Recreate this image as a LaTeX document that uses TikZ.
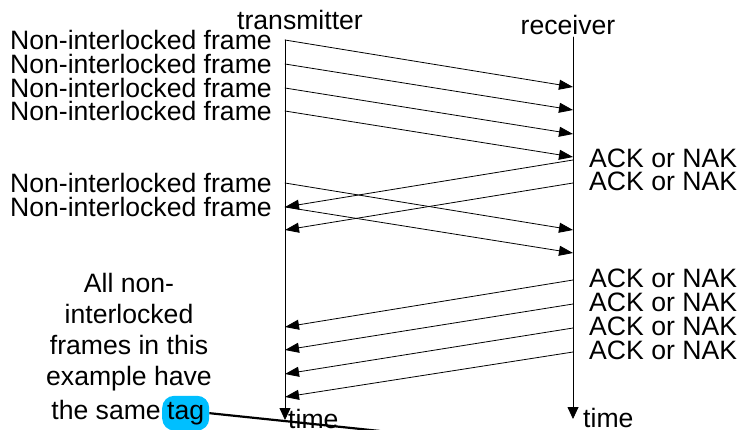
\documentclass[tikz,border=0pt]{standalone}
\usepackage{fontspec}
\setmainfont{Liberation Sans}
\usepackage{tikz}
\usetikzlibrary{arrows.meta, calc}
\usepackage{tkz-euclide}
\definecolor{tagblue}{RGB}{0,191,255}
\tikzset{
  msg/.style={line width=0.8pt, -{Triangle[length=14pt,width=10pt]}},
  axis/.style={line width=0.8pt, -{Triangle[length=12pt,width=11pt]}},
  lbl/.style={font=\fontsize{26.6}{24}\selectfont, inner sep=0pt},
}
\begin{document}
\begin{tikzpicture}[x=1pt,y=-1pt]
      \useasboundingbox (0,0) rectangle (738,429);
      % 1. 兩條時間軸
      \tkzDefPoint(285,40){T}
      \tkzDefPoint(285,420){T_end}
      \tkzDefPoint(573,37){R}
      \tkzDefPoint(573,419){R_end}
      \tkzDrawSegments[axis](T,T_end R,R_end)

      % 2. 發送端送出的幀 F_i -> G_i
      \tkzDefPoint(285,40){F_1}  \tkzDefPoint(573,87){G_1}
      \tkzDefPoint(285,64){F_2}  \tkzDefPoint(573,110){G_2}
      \tkzDefPoint(285,88){F_3}  \tkzDefPoint(573,134){G_3}
      \tkzDefPoint(285,111){F_4} \tkzDefPoint(573,157){G_4}
      \tkzDefPoint(285,183){F_5} \tkzDefPoint(573,230){G_5}
      \tkzDefPoint(285,207){F_6} \tkzDefPoint(573,253){G_6}
      \tkzDrawSegments[msg](F_1,G_1 F_2,G_2 F_3,G_3 F_4,G_4 F_5,G_5 F_6,G_6)

      % 3. 接收端回覆 K_i -> L_i
      \tkzDefPoint(573,160){K_1} \tkzDefPoint(285,207){L_1}
      \tkzDefPoint(573,183){K_2} \tkzDefPoint(285,230){L_2}
      \tkzDefPoint(573,280){K_3} \tkzDefPoint(285,327){L_3}
      \tkzDefPoint(573,304){K_4} \tkzDefPoint(285,350){L_4}
      \tkzDefPoint(573,328){K_5} \tkzDefPoint(285,374){L_5}
      \tkzDefPoint(573,352){K_6} \tkzDefPoint(285,397){L_6}
      \tkzDrawSegments[msg](K_1,L_1 K_2,L_2 K_3,L_3 K_4,L_4 K_5,L_5 K_6,L_6)

      % 4. 標籤
      \node (tx) [lbl] at (300,20) {transmitter};
      \node (rx) [lbl] at (568,25) {receiver};
      \foreach \i in {1,...,6}
        \node (frm\i) [lbl, left=13pt] at (F_\i) {Non-interlocked frame};
      \foreach \i in {1,...,6}
        \node (ack\i) [lbl, right=16pt] at ([yshift=2pt]K_\i) {ACK or NAK};
      \node (ttime) [lbl, anchor=west] at ([xshift=3pt,yshift=1pt]T_end) {time};
      \node (rtime) [lbl, anchor=west] at ([xshift=10pt,yshift=1pt]R_end) {time};

      % 5. 左側說明與 tag
      \node (note) [lbl, align=center, font=\fontsize{26.6}{31}\selectfont] at (129,332)
        {All non-\\interlocked\\frames in this\\example have};
      \node (same) [lbl, anchor=base east] at (161,419) {the same};
      \node (tag) [lbl, anchor=base west, fill=tagblue, rounded corners=12pt,
        inner xsep=5pt, inner ysep=6pt] at ([xshift=1pt]same.base east) {tag};
      \coordinate (tag_end) at (380,431);
      \draw[line width=2.2pt] (tag.east) -- (tag_end);
    \end{tikzpicture}
\end{document}
